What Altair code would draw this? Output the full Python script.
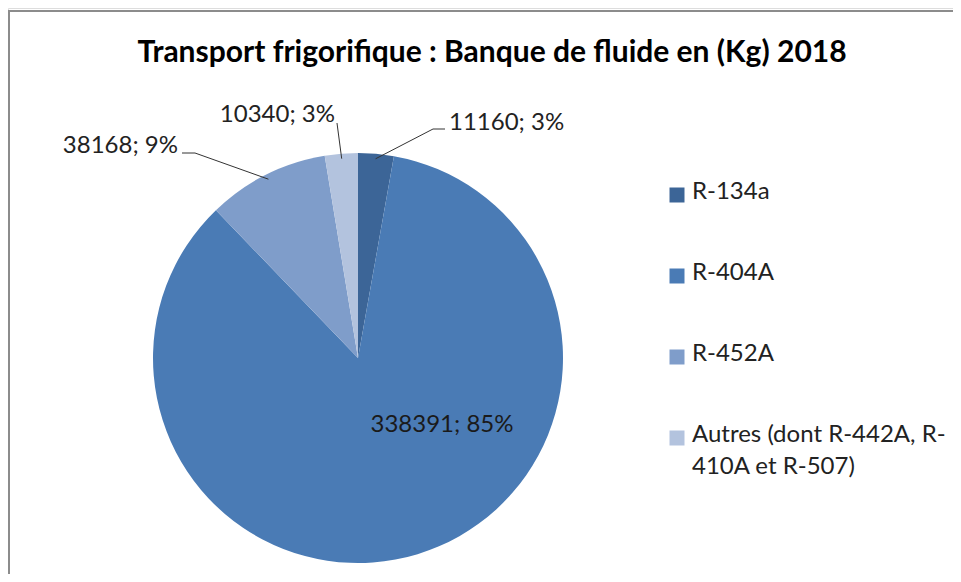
import altair as alt
import pandas as pd

# ---- data ----
categories = ["R-134a", "R-404A", "R-452A", "Autres (dont R-442A, R-410A et R-507)"]
values = [11160, 338391, 38168, 10340]
pct_shown = [3, 85, 9, 3]  # percentages as printed on the reference chart
colors = ["#3C6597", "#4A7BB5", "#7F9DCA", "#B3C3DE"]
title_text = "Transport frigorifique : Banque de fluide en (Kg) 2018"

df = pd.DataFrame({"cat": categories, "value": values, "pct": pct_shown,
                   "idx": list(range(len(categories)))})

W, H = 945, 566
CX, CY, R = 350, 350, 205
FONT = "Lato"

base = alt.Chart(df).transform_joinaggregate(
    total="sum(value)"
).transform_window(
    cum="sum(value)", sort=[alt.SortField("idx")], frame=[None, 0]
).transform_calculate(
    label="format(datum.value, 'd') + '; ' + datum.pct + '%'",
    ang="2 * PI * (datum.cum - datum.value / 2) / datum.total",
).transform_calculate(
    sx=f"{CX} + {R - 5} * sin(datum.ang)",
    sy=f"{CY} - {R - 5} * cos(datum.ang)",
)

color = alt.Color("cat:N", scale=alt.Scale(domain=categories, range=colors), legend=None)

pie = base.mark_arc(outerRadius=R).encode(
    theta=alt.Theta("value:Q", stack=True),
    color=color,
    order=alt.Order("idx:Q"),
    x=alt.value(CX),
    y=alt.value(CY),
)

layers = [pie]

# leader lines: (elbow x, elbow y, end x of horizontal, text x, text y, align)
leaders = {
    "R-134a": (425, 121, 437, 441, 115, "left"),
    "R-452A": (187, 145, 174, 170, 138, "right"),
    "Autres (dont R-442A, R-410A et R-507)": (329, 115, 329, 327, 107, "right"),
}
for cat, (ex, ey, hx, tx, ty, al) in leaders.items():
    sub = base.transform_filter(alt.datum.cat == cat)
    layers.append(
        sub.mark_rule(color="#333333", strokeWidth=1).encode(
            x=alt.X("sx:Q", scale=None), y=alt.Y("sy:Q", scale=None),
            x2=alt.value(ex), y2=alt.value(ey),
        )
    )
    if hx != ex:
        layers.append(
            sub.mark_rule(color="#333333", strokeWidth=1).encode(
                x=alt.value(ex), y=alt.value(ey), x2=alt.value(hx), y2=alt.value(ey),
            )
        )
    layers.append(
        sub.mark_text(font=FONT, fontSize=24, color="#222222", align=al, baseline="middle").encode(
            x=alt.value(tx), y=alt.value(ty), text="label:N"
        )
    )

# big inside label
layers.append(
    base.transform_filter(alt.datum.cat == "R-404A").mark_text(
        font=FONT, fontSize=24, color="#1a1a1a", align="center", baseline="middle"
    ).encode(x=alt.value(434), y=alt.value(417), text="label:N")
)

# manual legend
leg_y = alt.Y("cat:N", scale=alt.Scale(type="point", domain=categories, range=[187, 430], padding=0), axis=None)
layers.append(
    base.mark_square(size=225, opacity=1).encode(
        x=alt.value(669), y=leg_y, color=color
    )
)
legend_text = base.transform_calculate(
    ltxt="datum.cat == 'Autres (dont R-442A, R-410A et R-507)' ? 'Autres (dont R-442A, R-\\n410A et R-507)' : datum.cat"
).mark_text(
    font=FONT, fontSize=24, color="#222222", align="left", baseline="top", lineBreak="\n", lineHeight=32, dy=-15
).encode(x=alt.value(684), y=leg_y, text="ltxt:N")
layers.append(legend_text)

# title
layers.append(
    alt.Chart(pd.DataFrame({"t": [title_text]})).mark_text(
        font=FONT, fontSize=30, fontWeight="bold", color="#000000", align="center", baseline="middle"
    ).encode(x=alt.value(484), y=alt.value(45), text="t:N")
)

# frame
frame_df = pd.DataFrame({"k": [0]})
layers.append(
    alt.Chart(frame_df).mark_rule(color="#8c8c8c", strokeWidth=2).encode(
        x=alt.value(0), x2=alt.value(W), y=alt.value(3), y2=alt.value(3)
    )
)
layers.append(
    alt.Chart(frame_df).mark_rule(color="#8c8c8c", strokeWidth=2).encode(
        x=alt.value(1), x2=alt.value(1), y=alt.value(3), y2=alt.value(H)
    )
)

chart = alt.layer(*layers).resolve_scale(x="independent", y="independent").properties(
    width=W, height=H, padding=0, autosize=alt.AutoSizeParams(type="none")
).configure_view(stroke=None).configure(background="white")

chart.save("out.html", embed_options={"renderer": "svg", "actions": False})
